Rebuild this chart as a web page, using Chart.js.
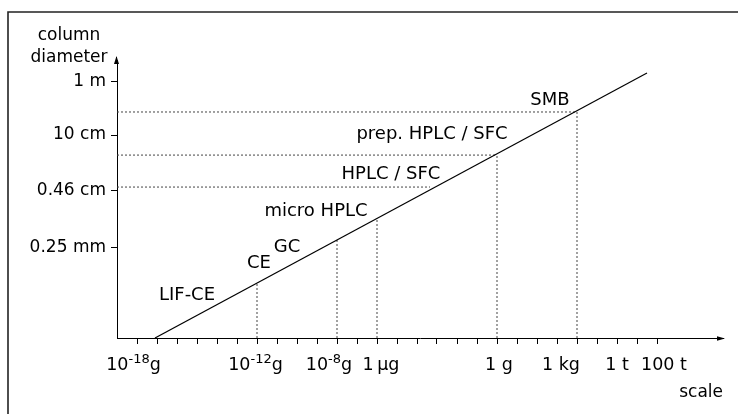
<!DOCTYPE html>
<html><head><meta charset="utf-8">
<script src="https://cdn.jsdelivr.net/npm/chart.js@4.4.1/dist/chart.umd.min.js"></script>
<style>html,body{margin:0;padding:0;background:#fff}canvas{display:block}</style>
</head><body>
<canvas id="c" width="738" height="414"></canvas>
<script>
// ---- data (x: log10 of sample amount in g, y: schematic column-diameter level) ----
const decadeTicks = [-18,-17,-16,-15,-14,-13,-12,-11,-10,-9,-8,-7,-6,-5,-4,-3,-2,-1,0,1,2,3,4,5,6,7,8];
const massLabelExp = [-18, -12, -8, -6, 0, 3, 6, 8];
const massLabels = ['10^-18g', '10^-12g', '10^-8g', '1\u2009\u00b5g', '1 g', '1 kg', '1 t', '100 t'];
const diameterLevels = [32.4, 52.9, 73.0, 92.1];
const diameterLabels = ['0.25 mm', '0.46 cm', '10 cm', '1 m'];
const lineLogMass = [-17.1, 7.5];
const lineLevel = [0, 95.3];
const guideLevel = [81.3, 65.8, 54.3];
const guideEndLogMass = [4, 0, -3.35];
const dropLogMass = [-12, -8, -6, 0, 4];
const dropLevel = [19.8, 35.3, 43.2, 65.8, 81.3];
const techniques = ['SMB', 'prep. HPLC / SFC', 'HPLC / SFC', 'micro HPLC', 'GC', 'CE', 'LIF-CE'];
const techLogMass = [2.65, -3.25, -5.3, -9.05, -10.5, -11.9, -15.5];
const techLevel = [83.8, 71.6, 57.2, 43.9, 30.9, 25.2, 13.8];

// ---- layout / style ----
const FONT = "'DejaVu Sans', Verdana, sans-serif";
const X_MIN = -19, X_MAX = 11.3, Y_MIN = 0, Y_MAX = 100;
const labelNudge = [-3.5, -1.5, -8, 4, 2, 4, 0, 7];

const datasets = [];
datasets.push({
  data: lineLogMass.map((x, i) => ({x, y: lineLevel[i]})),
  borderColor: '#000', borderWidth: 1.2
});
guideLevel.forEach((lv, i) => datasets.push({
  data: [{x: X_MIN, y: lv}, {x: guideEndLogMass[i], y: lv}],
  borderColor: '#444', borderWidth: 1, borderDash: [2, 2]
}));
dropLogMass.forEach((m, i) => datasets.push({
  data: [{x: m, y: 0}, {x: m, y: dropLevel[i]}],
  borderColor: '#444', borderWidth: 1, borderDash: [2, 2]
}));
datasets.forEach(d => { d.showLine = true; d.pointRadius = 0; d.fill = false; d.tension = 0; });

const decor = {
  id: 'decor',
  afterDraw(chart) {
    const ctx = chart.ctx, xs = chart.scales.x, ys = chart.scales.y;
    const ca = chart.chartArea;
    ctx.save();
    // frame (left + top)
    ctx.strokeStyle = '#222'; ctx.lineWidth = 1.6;
    ctx.beginPath(); ctx.moveTo(8, 414); ctx.lineTo(8, 12); ctx.lineTo(738, 12); ctx.stroke();
    // arrowheads
    ctx.fillStyle = '#000'; ctx.strokeStyle = '#000'; ctx.lineWidth = 1;
    const ax = Math.round(ca.left) - 0.5;
    ctx.beginPath(); ctx.moveTo(ax, ca.top); ctx.lineTo(ax, ca.top - 3); ctx.stroke();
    ctx.beginPath(); ctx.moveTo(ax, ca.top - 4); ctx.lineTo(ax - 2.5, ca.top + 4); ctx.lineTo(ax + 2.5, ca.top + 4); ctx.closePath(); ctx.fill();
    const ay = Math.round(ca.bottom) + 0.5;
    ctx.beginPath(); ctx.moveTo(ca.right + 2, ay); ctx.lineTo(ca.right - 6, ay - 2.2); ctx.lineTo(ca.right - 6, ay + 2.2); ctx.closePath(); ctx.fill();
    // titles
    ctx.fillStyle = '#000';
    ctx.font = '17px ' + FONT; ctx.textBaseline = 'alphabetic';
    ctx.textAlign = 'center';
    ctx.fillText('column', 69, 40);
    ctx.fillText('diameter', 69, 61.5);
    ctx.textAlign = 'right';
    ctx.fillText('scale', ca.right, 397);
    // x tick labels with superscripts
    massLabelExp.forEach((e, i) => {
      const txt = massLabels[i];
      const m = txt.match(/^(\d+)\^(-?\d+)(.*)$/);
      let parts;
      if (m) parts = [[m[1], 17.5, 0], [m[2], 13, -7], [m[3], 17.5, 0]];
      else parts = [[txt, 17.5, 0]];
      let w = 0;
      parts.forEach(p => { ctx.font = p[1] + 'px ' + FONT; p.push(ctx.measureText(p[0]).width); w += p[3]; });
      let x = xs.getPixelForValue(e) + labelNudge[i] - w / 2;
      ctx.textAlign = 'left';
      parts.forEach(p => { ctx.font = p[1] + 'px ' + FONT; ctx.fillText(p[0], x, 370 + p[2]); x += p[3]; });
    });
    // technique labels
    ctx.font = '18px ' + FONT; ctx.textAlign = 'center';
    techniques.forEach((t, i) => {
      ctx.fillText(t, xs.getPixelForValue(techLogMass[i]), ys.getPixelForValue(techLevel[i]));
    });
    ctx.restore();
  }
};

new Chart(document.getElementById('c'), {
  type: 'scatter',
  data: { datasets },
  options: {
    responsive: false, animation: false, events: [],
    layout: { padding: { top: 60, right: 15, left: 0, bottom: 0 } },
    plugins: { legend: { display: false }, tooltip: { enabled: false } },
    scales: {
      x: {
        type: 'linear', min: X_MIN, max: X_MAX,
        afterBuildTicks: s => { s.ticks = decadeTicks.map(v => ({value: v})); },
        afterFit: s => { s.height = 76; },
        ticks: { display: false, autoSkip: false },
        grid: { drawOnChartArea: false, drawTicks: true, tickLength: 6, color: '#000', lineWidth: 1 },
        border: { display: true, color: '#000', width: 1 }
      },
      y: {
        type: 'linear', min: Y_MIN, max: Y_MAX,
        afterBuildTicks: s => { s.ticks = diameterLevels.map(v => ({value: v})); },
        afterFit: s => { s.width = 117; },
        ticks: {
          autoSkip: false, padding: 5, color: '#000',
          font: { family: FONT, size: 17 },
          callback: v => { const i = diameterLevels.findIndex(d => Math.abs(d - v) < 1e-6); return i >= 0 ? diameterLabels[i] : ''; }
        },
        grid: { drawOnChartArea: false, drawTicks: true, tickLength: 6, color: '#000', lineWidth: 1 },
        border: { display: true, color: '#000', width: 1 }
      }
    }
  },
  plugins: [decor]
});
</script>
</body></html>
